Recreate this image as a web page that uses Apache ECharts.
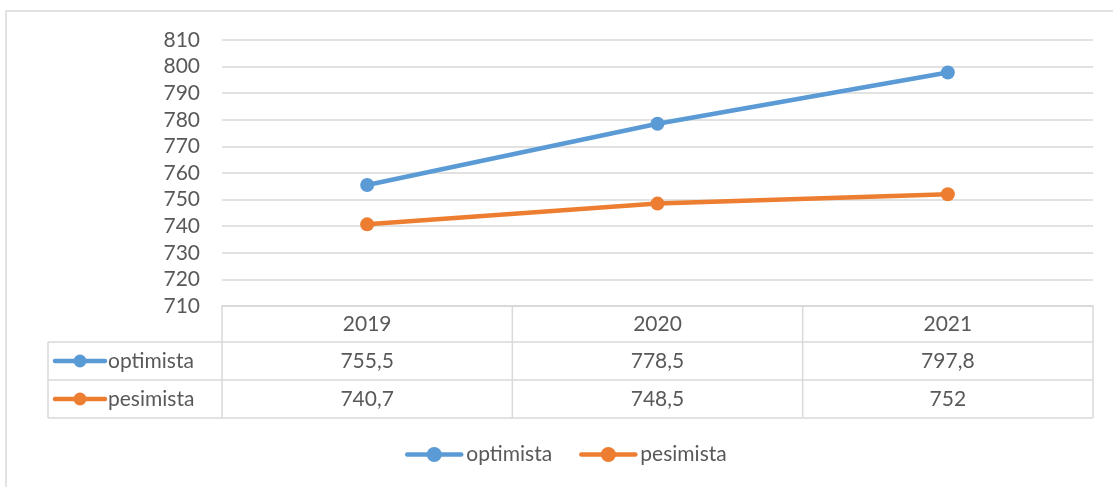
<!DOCTYPE html>
<html>
<head>
<meta charset="utf-8">
<script src="https://cdn.jsdelivr.net/npm/echarts@6/dist/echarts.min.js"></script>
<style>
html,body{margin:0;padding:0;background:#fff;}
#chart{width:1113px;height:487px;}
</style>
</head>
<body>
<div id="chart"></div>
<script>
// datos
var years = ['2019', '2020', '2021'];
var optimista = [755.5, 778.5, 797.8];
var pesimista = [740.7, 748.5, 752];
var seriesNames = ['optimista', 'pesimista'];
var yMin = 710, yMax = 810, yStep = 10;

var colors = ['#5B9BD5', '#ED7D31'];
var txtColor = '#595959';
var lineColor = '#d9d9d9';
var font = 'Lato, "Liberation Sans", sans-serif';
var fs = 21;

var chart = echarts.init(document.getElementById('chart'));

function fmt(v){
    return String(v).replace('.', ',');
}

var option = {
    animation: false,
    grid: {left: 222, right: 20, top: 40, bottom: 181},
    legend: {
        bottom: 17,
        left: 400,
        itemWidth: 54,
        itemHeight: 19,
        itemGap: 27,
        lineStyle: {width: 4.5, cap: 'round'},
        textStyle: {color: txtColor, fontSize: fs, fontFamily: font},
        data: seriesNames
    },
    xAxis: {
        type: 'category',
        data: years,
        boundaryGap: true,
        axisLine: {show: true, lineStyle: {color: lineColor, width: 1.5}},
        axisTick: {show: false},
        axisLabel: {show: false}
    },
    yAxis: {
        type: 'value',
        min: yMin,
        max: yMax,
        interval: yStep,
        axisLine: {show: false},
        axisTick: {show: false},
        axisLabel: {color: txtColor, fontSize: fs, fontFamily: font, margin: 22},
        splitLine: {lineStyle: {color: lineColor, width: 1.5}}
    },
    series: [
        {
            name: seriesNames[0],
            type: 'line',
            data: optimista,
            symbol: 'circle',
            symbolSize: 14,
            color: colors[0],
            lineStyle: {width: 4.5, color: colors[0], cap: 'round'},
            itemStyle: {color: colors[0]}
        },
        {
            name: seriesNames[1],
            type: 'line',
            data: pesimista,
            symbol: 'circle',
            symbolSize: 14,
            color: colors[1],
            lineStyle: {width: 4.5, color: colors[1], cap: 'round'},
            itemStyle: {color: colors[1]}
        }
    ]
};
chart.setOption(option);

// tabla de datos debajo del eje
function buildTable(){
    var xs = years.map(function(y, i){ return chart.convertToPixel({xAxisIndex: 0}, i); });
    var band = xs[1] - xs[0];
    var left = xs[0] - band / 2;
    var right = xs[xs.length - 1] + band / 2;
    var top = chart.convertToPixel({yAxisIndex: 0}, yMin);
    var rowH = [36, 38, 38];
    var nameLeft = 48;
    var rows = [top, top + rowH[0], top + rowH[0] + rowH[1], top + rowH[0] + rowH[1] + rowH[2]];
    var els = [];
    var ls = {stroke: lineColor, lineWidth: 1.5};

    // marco exterior del grafico
    els.push({type: 'rect', shape: {x: 6, y: 11, width: 1200, height: 600}, style: {fill: null, stroke: lineColor, lineWidth: 1.5}, silent: true});

    // lineas horizontales
    els.push({type: 'line', shape: {x1: left, y1: rows[0], x2: right, y2: rows[0]}, style: ls});
    for (var r = 1; r < rows.length; r++) {
        els.push({type: 'line', shape: {x1: nameLeft, y1: rows[r], x2: right, y2: rows[r]}, style: ls});
    }
    // lineas verticales
    els.push({type: 'line', shape: {x1: nameLeft, y1: rows[1], x2: nameLeft, y2: rows[3]}, style: ls});
    for (var c = 0; c <= xs.length; c++) {
        var x = left + c * band;
        els.push({type: 'line', shape: {x1: x, y1: rows[0], x2: x, y2: rows[3]}, style: ls});
    }

    var ts = function(t, x, y, align){
        return {type: 'text', x: x, y: y, style: {text: t, fill: txtColor, font: fs + 'px ' + font, align: align || 'center', verticalAlign: 'middle'}};
    };
    years.forEach(function(y, i){
        els.push(ts(y, xs[i], (rows[0] + rows[1]) / 2));
    });
    var vals = [optimista, pesimista];
    vals.forEach(function(arr, s){
        var cy = (rows[s + 1] + rows[s + 2]) / 2;
        arr.forEach(function(v, i){
            els.push(ts(fmt(v), xs[i], cy));
        });
        // icono de la serie
        els.push({type: 'line', shape: {x1: 55, y1: cy, x2: 105, y2: cy}, style: {stroke: colors[s], lineWidth: 4.5, lineCap: 'round'}});
        els.push({type: 'circle', shape: {cx: 80, cy: cy, r: 6.5}, style: {fill: colors[s]}});
        els.push(ts(seriesNames[s], 108, cy, 'left'));
    });
    chart.setOption({graphic: {elements: els}});
}
buildTable();
</script>
</body>
</html>
